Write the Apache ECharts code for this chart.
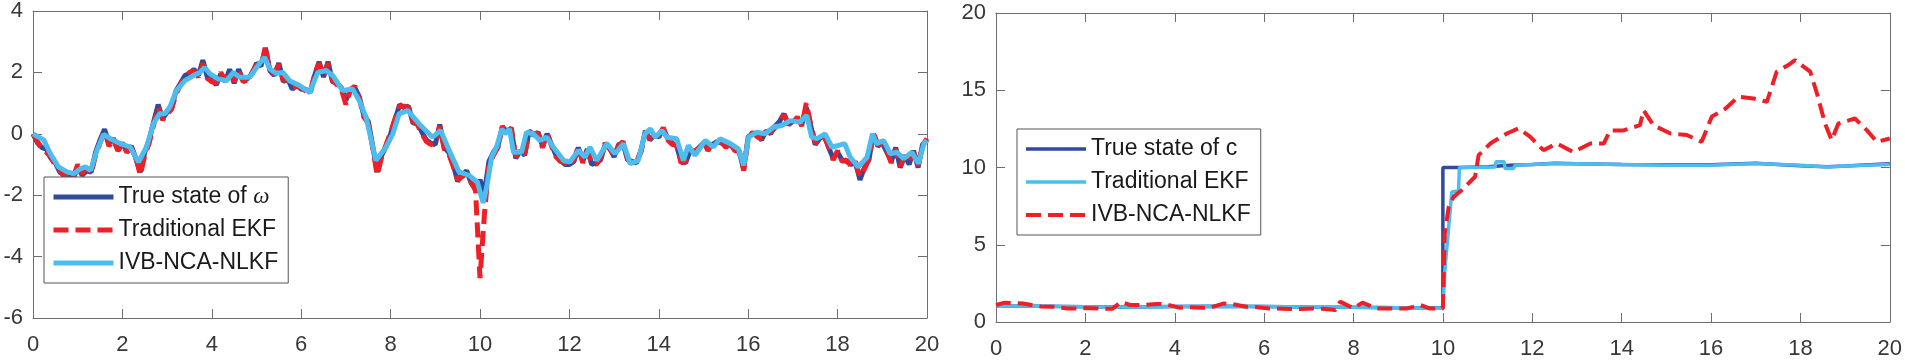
<!DOCTYPE html>
<html>
<head>
<meta charset="utf-8">
<title>omega / c estimation</title>
<script src="https://cdn.jsdelivr.net/npm/echarts@6/dist/echarts.min.js"></script>
<style>
  html, body { margin: 0; padding: 0; background: #fff; }
  #wrap { position: relative; width: 1905px; height: 360px; }
  #chartW { position: absolute; left: 0; top: 0; width: 952px; height: 360px; }
  #chartC { position: absolute; left: 952px; top: 0; width: 953px; height: 360px; }
</style>
</head>
<body>
<div id="wrap">
  <div id="chartW"></div>
  <div id="chartC"></div>
</div>
<script>
// ---- left panel: omega, sampled every 0.1 s ----
const trueW = [
  0.0, -0.3, -0.45, -0.5, -0.8, -0.95, -1.25, -1.35, -1.3, -1.45,
  -1.1, -1.35, -1.2, -1.25, -0.6, -0.2, 0.15, -0.3, -0.15, -0.5,
  -0.3, -0.55, -0.4, -0.8, -1.25, -0.6, -0.2, 0.4, 0.95, 0.5,
  0.7, 0.85, 1.4, 1.65, 1.9, 1.95, 2.1, 1.9, 2.4, 1.85,
  1.75, 1.6, 1.95, 1.7, 2.1, 1.65, 2.1, 1.75, 1.8, 1.95,
  2.3, 2.2, 2.8, 2.05, 1.9, 2.3, 1.7, 1.8, 1.45, 1.6,
  1.45, 1.45, 1.35, 1.9, 2.35, 1.85, 2.35, 1.7, 1.65, 1.5,
  1.1, 1.4, 1.5, 1.2, 0.6, 0.4, -0.4, -1.25, -0.7, -0.4,
  0.0, 0.45, 0.95, 0.85, 0.9, 0.35, 0.35, 0.05, -0.2, -0.3,
  -0.35, 0.3, -0.45, -0.6, -1.0, -1.55, -1.35, -1.2, -1.6, -1.8,
  -1.5, -1.9, -0.9, -0.6, -0.4, 0.2, 0.1, 0.15, -0.8, -0.55,
  -0.7, 0.1, -0.05, 0.05, -0.4, 0.0, -0.35, -0.7, -0.85, -1.0,
  -1.0, -0.9, -0.45, -0.9, -0.5, -1.0, -0.95, -0.85, -0.35, -0.45,
  -0.75, -0.35, -0.3, -0.85, -0.9, -0.95, -0.55, 0.1, -0.2, -0.05,
  -0.1, 0.15, -0.15, -0.3, -0.4, -0.9, -0.95, -0.55, -0.6, -0.45,
  -0.3, -0.5, -0.35, -0.25, -0.3, -0.4, -0.35, -0.5, -0.6, -1.15,
  -0.1, 0.0, -0.05, -0.2, 0.1, 0.0, 0.25, 0.4, 0.65, 0.3,
  0.4, 0.5, 0.3, 0.85, 0.25, -0.35, -0.15, -0.05, -0.45, -0.8,
  -0.6, -0.85, -0.9, -1.0, -0.95, -1.5, -1.1, -0.85, 0.0, -0.4,
  -0.3, -0.6, -0.9, -0.45, -1.1, -0.7, -1.0, -0.55, -1.1, -0.35,
  -0.2
];
const ekfW = [
  0.0, -0.25, -0.5, -0.6, -0.75, -1.05, -1.2, -1.4, -1.25, -1.4,
  -1.0, -1.3, -1.1, -1.3, -0.7, -0.3, 0.1, -0.4, -0.2, -0.55,
  -0.35, -0.6, -0.45, -0.75, -1.35, -0.7, -0.3, 0.3, 0.85, 0.45,
  0.65, 0.8, 1.3, 1.6, 1.85, 2.0, 2.05, 1.85, 2.3, 1.8,
  1.7, 1.65, 2.0, 1.75, 2.05, 1.7, 2.05, 1.7, 1.75, 2.0,
  2.25, 2.15, 2.85, 2.0, 1.95, 2.25, 1.75, 1.75, 1.5, 1.55,
  1.5, 1.4, 1.3, 1.95, 2.3, 1.9, 2.3, 1.75, 1.6, 1.45,
  0.95, 1.45, 1.55, 1.15, 0.55, 0.35, -0.45, -1.35, -0.75, -0.35,
  0.05, 0.5, 0.9, 0.9, 0.85, 0.4, 0.3, 0.0, -0.25, -0.35,
  -0.3, 0.25, -0.5, -0.65, -1.05, -1.5, -1.4, -1.3, -1.55, -1.85,
  -4.7, -2.6, -1.0, -0.7, -0.45, 0.25, 0.05, 0.2, -0.75, -0.6,
  -0.65, 0.05, 0.0, 0.0, -0.45, 0.05, -0.4, -0.75, -0.9, -0.95,
  -1.05, -0.85, -0.4, -0.95, -0.55, -0.95, -1.0, -0.8, -0.3, -0.5,
  -0.7, -0.4, -0.25, -0.8, -0.95, -0.9, -0.6, 0.05, -0.15, -0.1,
  -0.05, 0.2, -0.2, -0.35, -0.35, -0.95, -0.9, -0.6, -0.55, -0.5,
  -0.25, -0.55, -0.3, -0.3, -0.25, -0.45, -0.3, -0.55, -0.55, -1.2,
  -0.15, 0.05, -0.1, -0.15, 0.05, 0.05, 0.2, 0.45, 0.6, 0.35,
  0.35, 0.55, 0.25, 1.0, 0.3, -0.3, -0.2, -0.1, -0.4, -0.85,
  -0.55, -0.9, -0.85, -1.05, -0.9, -1.4, -1.15, -0.8, 0.05, -0.35,
  -0.35, -0.55, -0.95, -0.5, -1.05, -0.75, -0.95, -0.6, -1.05, -0.4,
  -0.15
];
const tW = trueW.map((_, i) => i / 10);

// IVB-NCA-NLKF on omega (smoother curve, read at its own turning points)
const tIvbW = [
  0, 0.24, 0.39, 0.57, 0.76, 0.91, 1.06, 1.17, 1.29, 1.43, 1.58, 1.73, 1.95, 2.17, 2.36, 2.54,
  2.69, 2.83, 2.95, 3.06, 3.21, 3.4, 3.58, 3.73, 3.84, 3.96, 4.14, 4.33, 4.48, 4.62, 4.85, 5.0,
  5.18, 5.3, 5.44, 5.59, 5.74, 5.96, 6.19, 6.37, 6.56, 6.71, 6.93, 7.15, 7.3, 7.45, 7.67, 7.9,
  8.05, 8.19, 8.38, 8.64, 8.94, 9.12, 9.31, 9.53, 9.75, 9.94, 10.07, 10.15, 10.26, 10.37, 10.49, 10.56,
  10.66, 10.75, 10.93, 11.04, 11.19, 11.34, 11.49, 11.64, 11.87, 12.01, 12.2, 12.35, 12.46, 12.61, 12.84, 13.02,
  13.21, 13.36, 13.54, 13.69, 13.81, 13.92, 14.07, 14.18, 14.4, 14.55, 14.66, 14.81, 15.04, 15.22, 15.37, 15.6,
  15.78, 15.9, 16.01, 16.19, 16.38, 16.57, 16.75, 16.94, 17.16, 17.31, 17.42, 17.54, 17.72, 17.87, 18.02, 18.16,
  18.28, 18.46, 18.66, 18.78, 18.87, 19.03, 19.18, 19.33, 19.48, 19.66, 19.81, 19.93, 20
];
const ivbW = [
  0, -0.2, -0.65, -1.08, -1.24, -1.3, -1.14, -1.08, -1.19, -0.54, -0.02, -0.16, -0.32, -0.43, -0.92, -0.43,
  0.32, 0.65, 0.65, 0.87, 1.41, 1.73, 1.89, 2.0, 2.16, 1.95, 1.79, 1.73, 2.0, 1.84, 1.84, 2.16,
  2.49, 2.11, 1.97, 2.0, 1.73, 1.57, 1.35, 2.0, 2.06, 1.89, 1.41, 1.46, 1.08, 0.54, -0.87, -0.43,
  0, 0.65, 0.76, 0.32, -0.11, 0.11, -0.54, -1.24, -1.35, -1.57, -2.25, -1.73, -0.76, -0.43, 0.16, 0,
  0.16, -0.6, -0.6, 0.05, 0, -0.22, -0.11, -0.43, -0.87, -0.92, -0.54, -0.76, -0.43, -0.87, -0.32, -0.65,
  -0.32, -0.97, -0.87, 0, 0.16, -0.11, 0.11, -0.11, -0.16, -0.87, -0.38, -0.7, -0.22, -0.43, -0.16, -0.32,
  -0.49, -1.03, -0.11, 0.05, 0, 0.22, 0.27, 0.43, 0.38, 0.6, -0.11, -0.16, 0, -0.43, -0.38, -0.32,
  -0.76, -1.08, -0.76, 0, -0.32, -0.22, -0.65, -0.6, -0.81, -0.6, -0.97, -0.32, -0.22
];

// ---- right panel: parameter c ----
const tTrueC = [0, 1, 2, 3, 4, 5, 6, 7, 8, 9, 10, 10, 10.4, 11, 11.5, 12, 12.5, 13, 14, 15, 16, 17, 18, 18.6, 19, 20];
const trueC = [1.05, 1.02, 0.98, 0.97, 1.0, 1.02, 1.0, 0.97, 0.95, 0.93, 0.93, 10.0, 10.0, 10.05, 10.15, 10.2, 10.28, 10.25, 10.2, 10.18, 10.18, 10.27, 10.12, 10.05, 10.1, 10.25];

const tEkfC = [0, 1, 2, 3, 4, 5, 6, 7, 8, 9, 10, 10.05, 10.13, 10.2, 10.35, 10.37, 11.17, 11.19, 11.37, 11.39, 11.58, 11.62, 12, 12.5, 13, 14, 15, 16, 17, 18, 18.6, 19, 20];
const ekfC = [1.05, 1.02, 0.98, 0.97, 1.0, 1.02, 1.0, 0.97, 0.95, 0.93, 0.9, 3.56, 6.16, 8.42, 8.49, 10.0, 10.03, 10.37, 10.37, 9.94, 9.94, 10.15, 10.2, 10.26, 10.25, 10.2, 10.15, 10.15, 10.26, 10.15, 10.04, 10.1, 10.2];

const tIvbC = [
  0, 0.2, 0.6, 0.8, 1.0, 1.3, 1.6, 1.8, 2.0, 2.3, 2.6, 2.8, 3.0, 3.3, 3.6, 3.8, 4.1, 4.3, 4.6, 4.8,
  5.1, 5.3, 5.6, 5.8, 6.1, 6.4, 6.6, 6.8, 7.1, 7.3, 7.6, 7.7, 8.0, 8.2, 8.5, 8.7, 9.0, 9.2, 9.5, 9.7,
  10.0, 10.04, 10.13, 10.24, 10.42, 10.72, 10.8, 11.06, 11.43, 11.69, 11.95, 12.25, 12.55, 12.92, 13.3, 13.6,
  13.74, 14.04, 14.41, 14.49, 14.71, 15.09, 15.46, 15.79, 16.02, 16.32, 16.61, 16.95, 17.25, 17.47, 17.73, 17.88,
  18.22, 18.37, 18.55, 18.7, 18.85, 19.22, 19.49, 19.71, 20
];
const ivbC = [
  1.1, 1.25, 1.2, 1.1, 1.0, 0.98, 0.88, 0.88, 0.9, 0.88, 0.85, 1.3, 1.1, 1.1, 1.17, 1.15, 0.93, 0.95, 0.93, 0.93,
  1.2, 1.15, 0.99, 0.97, 0.88, 0.86, 0.84, 0.84, 0.88, 0.86, 0.77, 1.32, 0.88, 1.25, 0.88, 0.88, 0.88, 0.88, 1.1, 0.88,
  0.88, 5.7, 7.45, 8.1, 8.53, 9.4, 10.8, 11.55, 12.2, 12.53, 12.0, 11.12, 11.55, 11.0, 11.55, 11.55,
  12.4, 12.4, 12.74, 13.7, 12.74, 12.2, 12.1, 11.66, 13.3, 13.8, 14.58, 14.47, 14.25, 16.2, 16.63, 16.95,
  16.2, 14.8, 12.85, 11.77, 12.85, 13.17, 12.4, 11.66, 11.88
];

const DARK = '#2f4b9c';
const LIGHT = '#4cbdee';
const RED = '#ee1f26';
const FONT = '"Liberation Sans", Arial, sans-serif';

function zip(ts, vs) {
  return ts.map((t, i) => [t, vs[i]]);
}

function lineSeries(name, data, color, width, dashed) {
  return {
    name: name,
    type: 'line',
    data: data,
    symbol: 'none',
    animation: false,
    lineStyle: {
      color: color,
      width: width,
      type: dashed ? [15, 7] : 'solid'
    },
    itemStyle: { color: color }
  };
}

// box axes like matlab: labels bottom/left, plain ticks mirrored on top/right
function boxAxes(xmin, xmax, xint, ymin, ymax, yint) {
  const axisCol = '#6e6e6e';
  const common = {
    axisLine: { show: true, onZero: false, lineStyle: { color: axisCol, width: 1 } },
    axisTick: { show: true, inside: true, length: 9, lineStyle: { color: axisCol } },
    splitLine: { show: false }
  };
  const label = { color: '#383838', fontSize: 22, fontFamily: FONT };
  return {
    xAxis: [
      Object.assign({ type: 'value', min: xmin, max: xmax, interval: xint, position: 'bottom',
        axisLabel: Object.assign({ margin: 16 }, label) }, common),
      Object.assign({ type: 'value', min: xmin, max: xmax, interval: xint, position: 'top',
        axisLabel: { show: false } }, common)
    ],
    yAxis: [
      Object.assign({ type: 'value', min: ymin, max: ymax, interval: yint, position: 'left',
        axisLabel: Object.assign({ margin: 10 }, label) }, common),
      Object.assign({ type: 'value', min: ymin, max: ymax, interval: yint, position: 'right',
        axisLabel: { show: false } }, common)
    ]
  };
}

function legendBox(left, top) {
  return {
    orient: 'vertical',
    left: left,
    top: top,
    itemWidth: 60,
    itemHeight: 14,
    itemGap: 7,
    padding: [7, 10, 7, 7],
    borderColor: '#555',
    borderWidth: 1,
    borderRadius: 0,
    backgroundColor: '#fff',
    selectedMode: false,
    // hide the marker dot, keep only the line sample at the series width
    itemStyle: { opacity: 0, color: 'transparent', borderWidth: 0 },
    lineStyle: { width: 'inherit' },
    textStyle: {
      fontSize: 23,
      lineHeight: 26,
      color: '#1a1a1a',
      fontFamily: FONT,
      rich: {
        i: { fontStyle: 'italic', fontFamily: '"Liberation Serif", serif', fontSize: 23, color: '#1a1a1a' }
      }
    }
  };
}

function setOmegaOption() {
  const ax = boxAxes(0, 20, 2, -6, 4, 2);
  const legend = legendBox(44, 177);
  legend.formatter = function (name) {
    return name === 'True state of ω' ? 'True state of {i|ω}' : name;
  };
  return {
    backgroundColor: '#fff',
    animation: false,
    grid: { left: 33, top: 10, width: 894, height: 308 },
    xAxis: ax.xAxis,
    yAxis: ax.yAxis,
    legend: legend,
    series: [
      lineSeries('True state of ω', zip(tW, trueW), DARK, 5, false),
      lineSeries('Traditional EKF', zip(tW, ekfW), RED, 5, true),
      lineSeries('IVB-NCA-NLKF', zip(tIvbW, ivbW), LIGHT, 5, false)
    ]
  };
}

function setCOption() {
  const ax = boxAxes(0, 20, 2, 0, 20, 5);
  return {
    backgroundColor: '#fff',
    animation: false,
    grid: { left: 44, top: 13, width: 894, height: 309 },
    xAxis: ax.xAxis,
    yAxis: ax.yAxis,
    legend: legendBox(65, 129),
    series: [
      lineSeries('True state of c', zip(tTrueC, trueC), DARK, 3.5, false),
      lineSeries('Traditional EKF', zip(tEkfC, ekfC), LIGHT, 3.5, false),
      lineSeries('IVB-NCA-NLKF', zip(tIvbC, ivbC), RED, 4, true)
    ]
  };
}

let chartW = echarts.init(document.getElementById('chartW'));
chartW.setOption(setOmegaOption());
let chartC = echarts.init(document.getElementById('chartC'));
chartC.setOption(setCOption());
</script>
</body>
</html>
